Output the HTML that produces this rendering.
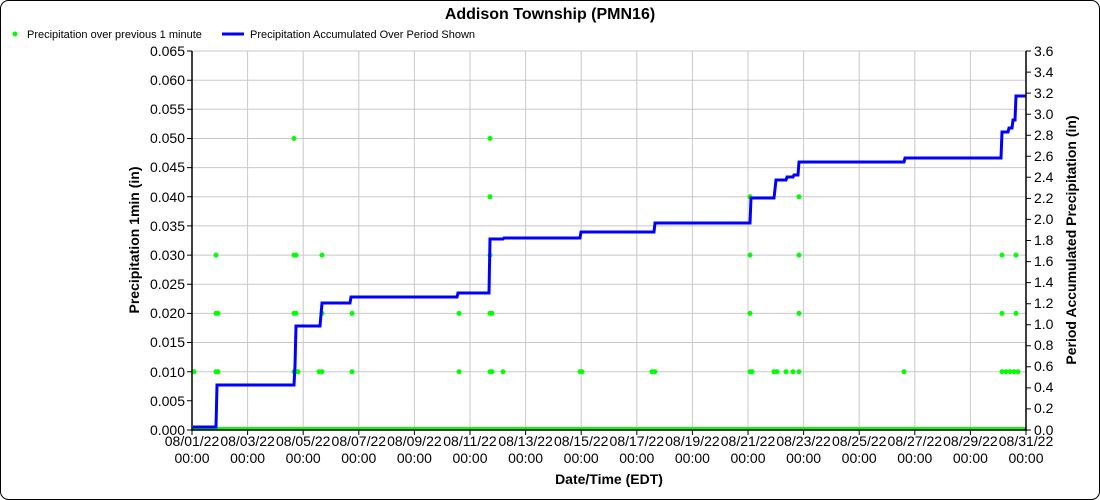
<!DOCTYPE html>
<html><head><meta charset="utf-8"><style>
body{margin:0;background:#fff;}
svg{display:block;font-family:"Liberation Sans",sans-serif;}
</style></head><body>
<svg width="1100" height="500" viewBox="0 0 1100 500">
<rect x="0.5" y="0.5" width="1099" height="499" rx="8" fill="#fff" stroke="#000"/>
<text x="550" y="19" text-anchor="middle" font-size="16" font-weight="bold">Addison Township (PMN16)</text>
<circle cx="15" cy="34" r="2.5" fill="#00ff00"/>
<text x="27" y="38" font-size="11">Precipitation over previous 1 minute</text>
<line x1="222" y1="34" x2="244" y2="34" stroke="#0000ff" stroke-width="3"/>
<text x="250" y="38" font-size="11">Precipitation Accumulated Over Period Shown</text>
<g stroke="#c8c8c8" stroke-width="1">
<line x1="192" x2="1026" y1="51" y2="51"/><line x1="192" x2="1026" y1="80.2" y2="80.2"/><line x1="192" x2="1026" y1="109.3" y2="109.3"/><line x1="192" x2="1026" y1="138.5" y2="138.5"/><line x1="192" x2="1026" y1="167.6" y2="167.6"/><line x1="192" x2="1026" y1="196.8" y2="196.8"/><line x1="192" x2="1026" y1="225.9" y2="225.9"/><line x1="192" x2="1026" y1="255.1" y2="255.1"/><line x1="192" x2="1026" y1="284.2" y2="284.2"/><line x1="192" x2="1026" y1="313.4" y2="313.4"/><line x1="192" x2="1026" y1="342.5" y2="342.5"/><line x1="192" x2="1026" y1="371.7" y2="371.7"/>
<line y1="51" y2="430" x1="247.6" x2="247.6"/><line y1="51" y2="430" x1="303.2" x2="303.2"/><line y1="51" y2="430" x1="358.8" x2="358.8"/><line y1="51" y2="430" x1="414.4" x2="414.4"/><line y1="51" y2="430" x1="470" x2="470"/><line y1="51" y2="430" x1="525.6" x2="525.6"/><line y1="51" y2="430" x1="581.2" x2="581.2"/><line y1="51" y2="430" x1="636.8" x2="636.8"/><line y1="51" y2="430" x1="692.4" x2="692.4"/><line y1="51" y2="430" x1="748" x2="748"/><line y1="51" y2="430" x1="803.6" x2="803.6"/><line y1="51" y2="430" x1="859.2" x2="859.2"/><line y1="51" y2="430" x1="914.8" x2="914.8"/><line y1="51" y2="430" x1="970.4" x2="970.4"/>
</g>
<line x1="192" y1="428.5" x2="1026" y2="428.5" stroke="#00ff00" stroke-width="3"/>
<g fill="#00ff00">
<circle cx="194" cy="371.7" r="2.5"/>
<circle cx="216" cy="255.1" r="2.5"/><circle cx="216" cy="313.4" r="2.5"/><circle cx="216" cy="371.7" r="2.5"/><circle cx="218" cy="313.4" r="2.5"/><circle cx="218" cy="371.7" r="2.5"/>
<circle cx="294" cy="138.5" r="2.5"/><circle cx="294" cy="255.1" r="2.5"/><circle cx="294" cy="313.4" r="2.5"/><circle cx="294" cy="371.7" r="2.5"/><circle cx="296" cy="255.1" r="2.5"/><circle cx="296" cy="313.4" r="2.5"/><circle cx="296" cy="371.7" r="2.5"/><circle cx="298" cy="371.7" r="2.5"/>
<circle cx="319" cy="371.7" r="2.5"/><circle cx="322" cy="255.1" r="2.5"/><circle cx="322" cy="313.4" r="2.5"/><circle cx="322" cy="371.7" r="2.5"/>
<circle cx="352" cy="313.4" r="2.5"/><circle cx="352" cy="371.7" r="2.5"/>
<circle cx="459" cy="313.4" r="2.5"/><circle cx="459" cy="371.7" r="2.5"/>
<circle cx="490" cy="138.5" r="2.5"/><circle cx="490" cy="196.8" r="2.5"/><circle cx="490" cy="255.1" r="2.5"/><circle cx="490" cy="313.4" r="2.5"/><circle cx="490" cy="371.7" r="2.5"/><circle cx="492" cy="313.4" r="2.5"/><circle cx="492" cy="371.7" r="2.5"/>
<circle cx="503" cy="371.7" r="2.5"/><circle cx="580" cy="371.7" r="2.5"/><circle cx="582" cy="371.7" r="2.5"/><circle cx="652" cy="371.7" r="2.5"/><circle cx="655" cy="371.7" r="2.5"/>
<circle cx="750" cy="196.8" r="2.5"/><circle cx="750" cy="255.1" r="2.5"/><circle cx="750" cy="313.4" r="2.5"/><circle cx="750" cy="371.7" r="2.5"/><circle cx="752" cy="371.7" r="2.5"/>
<circle cx="774" cy="371.7" r="2.5"/><circle cx="777" cy="371.7" r="2.5"/><circle cx="786" cy="371.7" r="2.5"/><circle cx="793" cy="371.7" r="2.5"/>
<circle cx="799" cy="196.8" r="2.5"/><circle cx="799" cy="255.1" r="2.5"/><circle cx="799" cy="313.4" r="2.5"/><circle cx="799" cy="371.7" r="2.5"/>
<circle cx="904" cy="371.7" r="2.5"/>
<circle cx="1002" cy="255.1" r="2.5"/><circle cx="1002" cy="313.4" r="2.5"/><circle cx="1002" cy="371.7" r="2.5"/><circle cx="1006" cy="371.7" r="2.5"/><circle cx="1010" cy="371.7" r="2.5"/><circle cx="1014" cy="371.7" r="2.5"/>
<circle cx="1016" cy="255.1" r="2.5"/><circle cx="1016" cy="313.4" r="2.5"/><circle cx="1018" cy="371.7" r="2.5"/>
</g>
<polyline fill="none" stroke="#0000ff" stroke-width="3" points="193,427 216,427 217,385 294,385 295,366 296,326 320,326 322,303 350,303 351,297 457,297 458,293 489,293 490,239 503,239 504,238 580,238 581,232 654,232 655,223 750,223 751,198 774,198 776,180 786,180 787,177 793,177 794,175 798,175 799,162 904,162 905,158 1001,158 1002,132 1008,132 1009,128 1012,128 1013,120 1015,120 1016,96 1026,96"/>
<g stroke="#000" stroke-width="1.5">
<line x1="192" y1="51" x2="192" y2="431"/><line x1="1026" y1="51" x2="1026" y2="431"/><line x1="192" y1="430" x2="1026" y2="430"/>
</g>
<g stroke="#000" stroke-width="1">
<path d="M187 51h5M187 80.2h5M187 109.3h5M187 138.5h5M187 167.6h5M187 196.8h5M187 225.9h5M187 255.1h5M187 284.2h5M187 313.4h5M187 342.5h5M187 371.7h5M187 400.8h5M187 430h5"/>
<path d="M1026 51h5M1026 72.1h5M1026 93.1h5M1026 114.2h5M1026 135.2h5M1026 156.3h5M1026 177.3h5M1026 198.4h5M1026 219.4h5M1026 240.5h5M1026 261.6h5M1026 282.6h5M1026 303.7h5M1026 324.7h5M1026 345.8h5M1026 366.8h5M1026 387.9h5M1026 408.9h5M1026 430h5"/>
<path d="M192 430v5M247.6 430v5M303.2 430v5M358.8 430v5M414.4 430v5M470 430v5M525.6 430v5M581.2 430v5M636.8 430v5M692.4 430v5M748 430v5M803.6 430v5M859.2 430v5M914.8 430v5M970.4 430v5M1026 430v5"/>
</g>
<g font-size="14" text-anchor="end">
<text x="185" y="56">0.065</text><text x="185" y="85">0.060</text><text x="185" y="114">0.055</text><text x="185" y="143">0.050</text><text x="185" y="172">0.045</text><text x="185" y="202">0.040</text><text x="185" y="231">0.035</text><text x="185" y="260">0.030</text><text x="185" y="289">0.025</text><text x="185" y="318">0.020</text><text x="185" y="347">0.015</text><text x="185" y="377">0.010</text><text x="185" y="406">0.005</text><text x="185" y="435">0.000</text>
</g>
<g font-size="14">
<text x="1034" y="56">3.6</text><text x="1034" y="77">3.4</text><text x="1034" y="98">3.2</text><text x="1034" y="119">3.0</text><text x="1034" y="140">2.8</text><text x="1034" y="161">2.6</text><text x="1034" y="182">2.4</text><text x="1034" y="203">2.2</text><text x="1034" y="224">2.0</text><text x="1034" y="245">1.8</text><text x="1034" y="266">1.6</text><text x="1034" y="287">1.4</text><text x="1034" y="308">1.2</text><text x="1034" y="329">1.0</text><text x="1034" y="350">0.8</text><text x="1034" y="371">0.6</text><text x="1034" y="392">0.4</text><text x="1034" y="413">0.2</text><text x="1034" y="435">0.0</text>
</g>
<g font-size="14" text-anchor="middle">
<text x="192" y="446">08/01/22</text><text x="192" y="463">00:00</text>
<text x="247.6" y="446">08/03/22</text><text x="247.6" y="463">00:00</text>
<text x="303.2" y="446">08/05/22</text><text x="303.2" y="463">00:00</text>
<text x="358.8" y="446">08/07/22</text><text x="358.8" y="463">00:00</text>
<text x="414.4" y="446">08/09/22</text><text x="414.4" y="463">00:00</text>
<text x="470" y="446">08/11/22</text><text x="470" y="463">00:00</text>
<text x="525.6" y="446">08/13/22</text><text x="525.6" y="463">00:00</text>
<text x="581.2" y="446">08/15/22</text><text x="581.2" y="463">00:00</text>
<text x="636.8" y="446">08/17/22</text><text x="636.8" y="463">00:00</text>
<text x="692.4" y="446">08/19/22</text><text x="692.4" y="463">00:00</text>
<text x="748" y="446">08/21/22</text><text x="748" y="463">00:00</text>
<text x="803.6" y="446">08/23/22</text><text x="803.6" y="463">00:00</text>
<text x="859.2" y="446">08/25/22</text><text x="859.2" y="463">00:00</text>
<text x="914.8" y="446">08/27/22</text><text x="914.8" y="463">00:00</text>
<text x="970.4" y="446">08/29/22</text><text x="970.4" y="463">00:00</text>
<text x="1026" y="446">08/31/22</text><text x="1026" y="463">00:00</text>
</g>
<text x="609" y="484" text-anchor="middle" font-size="14" font-weight="bold">Date/Time (EDT)</text>
<text transform="translate(139,240) rotate(-90)" text-anchor="middle" font-size="14" font-weight="bold">Precipitation 1min (in)</text>
<text transform="translate(1076,240) rotate(-90)" text-anchor="middle" font-size="14" font-weight="bold">Period Accumulated Precipitation (in)</text>
</svg>
</body></html>
